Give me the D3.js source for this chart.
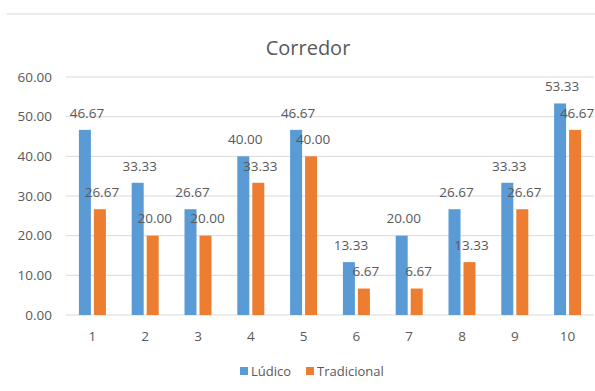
<!DOCTYPE html>
<html>
<head>
<meta charset="utf-8">
<script src="https://cdn.jsdelivr.net/npm/d3@7"></script>
<style>
  body { margin: 0; background: #fff; }
  text { font-family: "Open Sans", "Liberation Sans", sans-serif; fill: #595959; }
</style>
</head>
<body>
<script>
// chart data
var categories = ["1", "2", "3", "4", "5", "6", "7", "8", "9", "10"];
var ludico = [46.67, 33.33, 26.67, 40.00, 46.67, 13.33, 20.00, 26.67, 33.33, 53.33];
var tradicional = [26.67, 20.00, 20.00, 33.33, 40.00, 6.67, 6.67, 13.33, 26.67, 46.67];
var seriesNames = ["Lúdico", "Tradicional"];
var yTicks = [0, 10, 20, 30, 40, 50, 60];

var colors = ["#5b9bd5", "#ed7d31"];
var width = 595, height = 391;

var svg = d3.select("body").append("svg")
    .attr("width", width)
    .attr("height", height);

// top border line
svg.append("line")
    .attr("x1", 7).attr("x2", width)
    .attr("y1", 14).attr("y2", 14)
    .attr("stroke", "#d9d9d9").attr("stroke-width", 1);

var x = d3.scaleBand().domain(categories).range([66, 594]);
var y = d3.scaleLinear().domain([0, 60]).range([315, 77]);

// gridlines
svg.append("g").selectAll("line")
    .data(yTicks)
    .enter().append("line")
    .attr("x1", 66).attr("x2", 594)
    .attr("y1", d => y(d)).attr("y2", d => y(d))
    .attr("stroke", "#d9d9d9").attr("stroke-width", 1);

// y labels
svg.append("g").selectAll("text")
    .data(yTicks)
    .enter().append("text")
    .attr("x", 52)
    .attr("y", d => y(d))
    .attr("dy", "0.35em")
    .attr("text-anchor", "end")
    .attr("font-size", "13.5px")
    .text(d => d.toFixed(2));

// x labels
svg.append("g").selectAll("text")
    .data(categories)
    .enter().append("text")
    .attr("x", d => x(d) + x.bandwidth() / 2)
    .attr("y", 336)
    .attr("dy", "0.35em")
    .attr("text-anchor", "middle")
    .attr("font-size", "13.5px")
    .text(d => d);

var barW = 12, gap = 3;
var series = [ludico, tradicional];

series.forEach(function(vals, s) {
    var g = svg.append("g");
    var offset = s == 0 ? -gap / 2 - barW : gap / 2;
    g.selectAll("rect")
        .data(vals)
        .enter().append("rect")
        .attr("x", (d, i) => x(categories[i]) + x.bandwidth() / 2 + offset)
        .attr("y", d => y(d))
        .attr("width", barW)
        .attr("height", d => y(0) - y(d))
        .attr("fill", colors[s]);
});

// data labels drawn after bars so they sit on top
series.forEach(function(vals, s) {
    var offset = s == 0 ? -gap / 2 - barW / 2 : gap / 2 + barW / 2;
    svg.append("g").selectAll("text")
        .data(vals)
        .enter().append("text")
        .attr("x", (d, i) => x(categories[i]) + x.bandwidth() / 2 + offset + 2)
        .attr("y", d => y(d) - 17)
        .attr("dy", "0.35em")
        .attr("text-anchor", "middle")
        .attr("font-size", "13.5px")
        .attr("fill", "#404040")
        .text(d => d.toFixed(2));
});

// title
svg.append("text")
    .attr("x", 308)
    .attr("y", 48)
    .attr("dy", "0.35em")
    .attr("text-anchor", "middle")
    .attr("font-size", "20px")
    .text("Corredor");

// legend
var legend = svg.append("g").selectAll("g")
    .data(seriesNames)
    .enter().append("g")
    .attr("transform", (d, i) => "translate(" + (i == 0 ? 240 : 306) + ",371)");

legend.append("rect")
    .attr("x", 0).attr("y", -4)
    .attr("width", 8).attr("height", 8)
    .attr("fill", (d, i) => colors[i]);

legend.append("text")
    .attr("x", 11)
    .attr("y", 0)
    .attr("dy", "0.35em")
    .attr("font-size", "13px")
    .text(d => d);
</script>
</body>
</html>
